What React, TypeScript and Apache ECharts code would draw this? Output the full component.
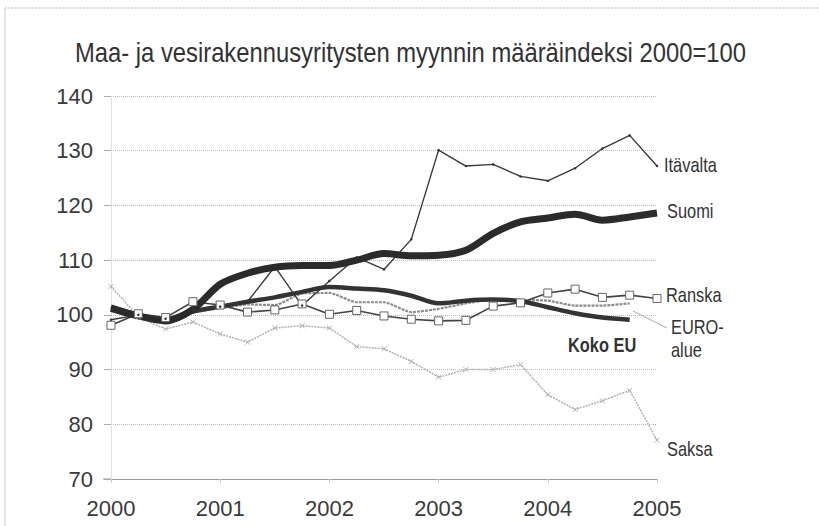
import React, { useEffect, useRef } from "react";
import * as echarts from "echarts";

const quarters = [
  "2000 I", "2000 II", "2000 III", "2000 IV",
  "2001 I", "2001 II", "2001 III", "2001 IV",
  "2002 I", "2002 II", "2002 III", "2002 IV",
  "2003 I", "2003 II", "2003 III", "2003 IV",
  "2004 I", "2004 II", "2004 III", "2004 IV",
  "2005 I",
];

const itavalta = [99.1, 100.0, 99.3, 101.0, 101.5, 102.4, 108.8, 101.7, 106.2, 110.5, 108.3, 113.8, 130.1, 127.2, 127.5, 125.3, 124.5, 126.8, 130.4, 132.8, 127.2];
const suomi = [101.2, 99.8, 98.9, 101.0, 105.6, 107.6, 108.7, 109.0, 109.0, 110.0, 111.2, 110.8, 110.9, 111.8, 114.9, 117.0, 117.7, 118.4, 117.3, 117.9, 118.6];
const kokoEU = [101.5, 100.0, 99.0, 100.6, 101.5, 102.4, 103.2, 104.2, 105.1, 104.8, 104.5, 103.5, 102.1, 102.6, 102.8, 102.5, 101.4, 100.3, 99.5, 99.1];
const euroAlue = [101.0, 99.6, 98.6, 100.4, 101.2, 101.9, 101.8, 103.9, 104.0, 102.3, 102.3, 100.5, 101.1, 102.1, 102.8, 102.7, 102.6, 101.7, 101.7, 102.1];
const ranska = [98.1, 100.2, 99.5, 102.4, 101.8, 100.5, 100.9, 102.0, 100.1, 100.8, 99.8, 99.2, 98.9, 99.0, 101.6, 102.2, 104.0, 104.7, 103.2, 103.6, 103.0];
const saksa = [105.2, 99.6, 97.4, 98.7, 96.5, 95.0, 97.6, 98.0, 97.6, 94.2, 93.8, 91.5, 88.6, 90.0, 90.0, 90.9, 85.4, 82.7, 84.3, 86.2, 77.1];

const yTicks = [70, 80, 90, 100, 110, 120, 130, 140];
const titleText = "Maa- ja vesirakennusyritysten myynnin määräindeksi 2000=100";

const FONT = "'Liberation Sans', Arial, sans-serif";

export default function App() {
  const ref = useRef<HTMLDivElement>(null);
  useEffect(() => {
    document.body.style.margin = "0";
    const chart = echarts.init(ref.current!, null, { renderer: "svg" });
    const label = (text: string, x: number, y: number, bold = false) => ({
      type: "text",
      x,
      y,
      scaleX: 0.82,
      style: {
        text,
        fill: "#333",
        font: `${bold ? "bold " : ""}20px ${FONT}`,
        verticalAlign: "middle",
      },
    });
    chart.setOption({
      animation: false,
      backgroundColor: "#fff",
      grid: { left: 111, right: 162, top: 96, bottom: 47 },
      xAxis: {
        type: "category",
        data: quarters,
        boundaryGap: false,
        axisLine: { lineStyle: { color: "#999", width: 1 } },
        axisTick: { show: true, interval: 3, length: 4, lineStyle: { color: "#ccc" } },
        axisLabel: {
          interval: 3,
          margin: 18,
          fontFamily: FONT,
          fontSize: 22,
          color: "#3a3a3a",
          formatter: (v: string) => v.slice(0, 4),
        },
        splitLine: { show: false },
      },
      yAxis: {
        type: "value",
        min: yTicks[0],
        max: yTicks[yTicks.length - 1],
        interval: 10,
        axisLine: { show: true, lineStyle: { color: "#ddd", type: "dotted" } },
        axisTick: { show: true, length: 7, lineStyle: { color: "#aaa" } },
        axisLabel: { margin: 18, fontFamily: FONT, fontSize: 22, color: "#3a3a3a" },
        splitLine: { lineStyle: { color: "#bbb", type: "dotted" } },
      },
      series: [
        {
          name: "Saksa",
          type: "line",
          data: saksa,
          symbol: "path://M0,0L10,10M10,0L0,10",
          symbolSize: 5,
          itemStyle: { color: "#fff", borderColor: "#b0b0b0", borderWidth: 1 },
          lineStyle: { color: "#b0b0b0", width: 1.5, type: [2, 1] },
        },
        {
          name: "EURO-alue",
          type: "line",
          data: euroAlue,
          showSymbol: false,
          smooth: 0.2,
          lineStyle: { color: "#8c8c8c", width: 2.2, type: [3, 1] },
        },
        {
          name: "Ranska",
          type: "line",
          data: ranska,
          symbol: "rect",
          symbolSize: 8,
          itemStyle: { color: "#fff", borderColor: "#666", borderWidth: 1 },
          lineStyle: { color: "#444", width: 1.6 },
        },
        {
          name: "Itävalta",
          type: "line",
          data: itavalta,
          symbol: "circle",
          symbolSize: 2.5,
          itemStyle: { color: "#333" },
          lineStyle: { color: "#3a3a3a", width: 1.4 },
        },
        {
          name: "Koko EU",
          type: "line",
          data: kokoEU,
          showSymbol: false,
          smooth: 0.3,
          lineStyle: { color: "#333", width: 4.5 },
        },
        {
          name: "Suomi",
          type: "line",
          data: suomi,
          showSymbol: false,
          smooth: 0.3,
          lineStyle: { color: "#2b2b2b", width: 7 },
        },
      ],
      graphic: [
        { type: "line", shape: { x1: 5, y1: 8, x2: 819, y2: 8 }, style: { stroke: "#bbb", lineWidth: 1, lineDash: [2, 1] } },
        { type: "line", shape: { x1: 5, y1: 8, x2: 5, y2: 526 }, style: { stroke: "#ccc", lineWidth: 1 } },
        { type: "line", shape: { x1: 103, y1: 479, x2: 111, y2: 479 }, style: { stroke: "#999", lineWidth: 1 } },
        { type: "line", shape: { x1: 633, y1: 311, x2: 667, y2: 328 }, style: { stroke: "#aaa", lineWidth: 1 } },
        {
          type: "text",
          x: 75,
          y: 52,
          scaleX: 0.85,
          style: {
            text: titleText,
            fill: "#333",
            font: `28px ${FONT}`,
            verticalAlign: "middle",
          },
        },
        label("Itävalta", 664, 165),
        label("Suomi", 667, 211),
        label("Ranska", 666, 295),
        label("EURO-", 671, 327),
        label("alue", 671, 350),
        label("Koko EU", 568, 345, true),
        label("Saksa", 667, 449),
      ],
    });
    return () => chart.dispose();
  }, []);
  return <div ref={ref} style={{ width: 819, height: 526 }} />;
}
